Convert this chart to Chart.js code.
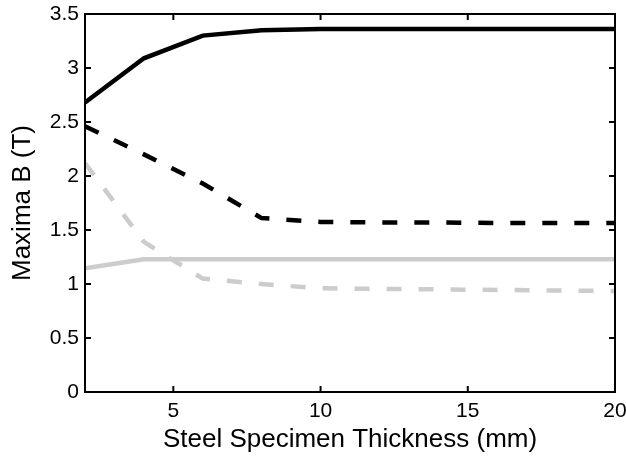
<!DOCTYPE html>
<html>
<head>
<meta charset="utf-8">
<script src="https://cdn.jsdelivr.net/npm/chart.js@4"></script>
<style>
  html, body { margin: 0; padding: 0; background: #fff; }
  #wrap { width: 626px; height: 459px; }
</style>
</head>
<body>
<div id="wrap"><canvas id="myChart"></canvas></div>
<script>
// data
var thickness = [2, 4, 6, 8, 10, 12, 14, 16, 18, 20];
var solidBlack = [2.68, 3.09, 3.30, 3.35, 3.36, 3.36, 3.36, 3.36, 3.36, 3.36];
var dashedBlack = [2.46, 2.20, 1.93, 1.61, 1.575, 1.57, 1.57, 1.565, 1.565, 1.565];
var solidGray = [1.145, 1.23, 1.23, 1.23, 1.23, 1.23, 1.23, 1.23, 1.23, 1.23];
var dashedGray = [2.12, 1.39, 1.05, 1.00, 0.96, 0.955, 0.95, 0.945, 0.94, 0.935];
var xTicks = [5, 10, 15, 20];
var yTicks = [0, 0.5, 1, 1.5, 2, 2.5, 3, 3.5];

var FONT = "'Liberation Sans', Arial, Helvetica, sans-serif";

function toPoints(ys) {
    return thickness.map(function (x, i) { return { x: x, y: ys[i] }; });
}

// box around the plot with inward ticks, like matlab
var framePlugin = {
    id: 'frame',
    afterDatasetsDraw: function (chart) {
        var ctx = chart.ctx, a = chart.chartArea;
        var xs = chart.scales.x, ys = chart.scales.y;
        var len = 6;
        ctx.save();
        ctx.strokeStyle = '#000';
        ctx.lineWidth = 2;
        ctx.beginPath();
        xTicks.forEach(function (v) {
            var px = xs.getPixelForValue(v);
            ctx.moveTo(px, a.bottom); ctx.lineTo(px, a.bottom - len);
            ctx.moveTo(px, a.top); ctx.lineTo(px, a.top + len);
        });
        yTicks.forEach(function (v) {
            var py = ys.getPixelForValue(v);
            ctx.moveTo(a.left, py); ctx.lineTo(a.left + len, py);
            ctx.moveTo(a.right, py); ctx.lineTo(a.right - len, py);
        });
        ctx.stroke();
        ctx.strokeRect(a.left, a.top, a.right - a.left, a.bottom - a.top);
        ctx.restore();
    }
};

var ctx = document.getElementById('myChart').getContext('2d');
var chart = new Chart(ctx, {
    type: 'line',
    data: {
        datasets: [
            { data: toPoints(solidBlack), borderColor: '#000', borderWidth: 4.5 },
            { data: toPoints(dashedBlack), borderColor: '#000', borderWidth: 4.5, borderDash: [15, 17] },
            { data: toPoints(solidGray), borderColor: '#cccccc', borderWidth: 4.5 },
            { data: toPoints(dashedGray), borderColor: '#cccccc', borderWidth: 4.5, borderDash: [15, 17] }
        ]
    },
    options: {
        responsive: true,
        maintainAspectRatio: false,
        animation: false,
        layout: { padding: { top: 14, right: 11, left: 0, bottom: 0 } },
        elements: {
            point: { radius: 0 },
            line: { tension: 0, borderCapStyle: 'butt', borderJoinStyle: 'miter', fill: false }
        },
        plugins: {
            legend: { display: false },
            tooltip: { enabled: false }
        },
        scales: {
            x: {
                type: 'linear',
                min: 2,
                max: 20,
                afterBuildTicks: function (s) {
                    s.ticks = xTicks.map(function (v) { return { value: v }; });
                },
                afterFit: function (s) {
                    s.height = 67;
                    s.paddingLeft = 0;
                    s.paddingRight = 0;
                },
                grid: { display: false, drawTicks: false },
                border: { display: false },
                ticks: {
                    color: '#000', padding: 7, maxRotation: 0,
                    font: { family: FONT, size: 21 },
                    callback: function (v) { return String(v); }
                },
                title: {
                    display: true,
                    text: 'Steel Specimen Thickness (mm)',
                    color: '#000',
                    font: { family: FONT, size: 26 },
                    padding: { top: 4, bottom: 4 }
                }
            },
            y: {
                min: 0,
                max: 3.5,
                afterBuildTicks: function (s) {
                    s.ticks = yTicks.map(function (v) { return { value: v }; });
                },
                afterFit: function (s) {
                    s.width = 85;
                    s.paddingTop = 0;
                    s.paddingBottom = 0;
                },
                grid: { display: false, drawTicks: false },
                border: { display: false },
                ticks: {
                    color: '#000', padding: 6,
                    font: { family: FONT, size: 21 },
                    callback: function (v) { return String(v); }
                },
                title: {
                    display: true,
                    text: 'Maxima B (T)',
                    color: '#000',
                    font: { family: FONT, size: 26 },
                    padding: { top: 7, bottom: 0 }
                }
            }
        }
    },
    plugins: [framePlugin]
});
</script>
</body>
</html>
